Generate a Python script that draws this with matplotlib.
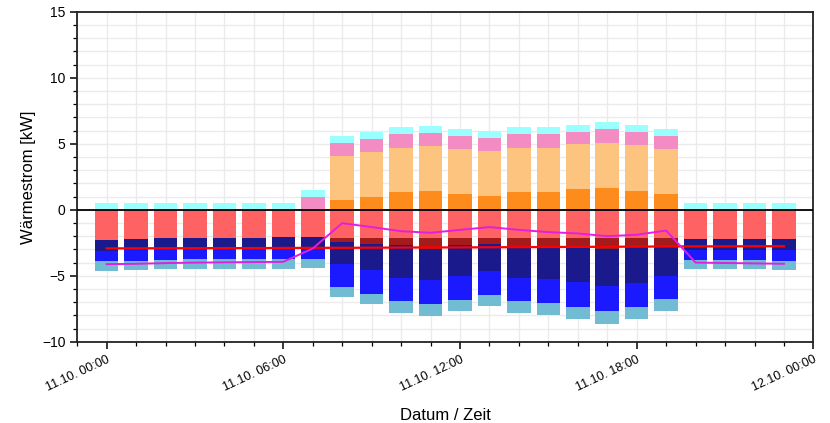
import datetime as dt
import numpy as np
import matplotlib
matplotlib.use("Agg")
import matplotlib.pyplot as plt
import matplotlib.dates as mdates
from matplotlib.ticker import MultipleLocator

plt.rcParams['font.family'] = ['Liberation Sans', 'DejaVu Sans']

# DATA (hourly values, 11.10.)

hours = [dt.datetime(2021, 10, 11, h) for h in range(24)]

# positive part (bottom -> top)
orange_dark = [0, 0, 0, 0, 0, 0, 0, 0, 0.71, 0.96, 1.34, 1.41, 1.20, 1.04, 1.33, 1.33,
               1.54, 1.69, 1.46, 1.19, 0, 0, 0, 0]
orange_light = [0, 0, 0, 0, 0, 0, 0, 0, 3.38, 3.42, 3.38, 3.40, 3.37, 3.40, 3.39, 3.39,
                3.41, 3.39, 3.44, 3.38, 0, 0, 0, 0]
pink = [0, 0, 0, 0, 0, 0, 0, 0.96, 1.01, 0.97, 1.01, 0.99, 1.02, 0.99, 1.01, 1.01,
        0.98, 1.01, 0.98, 1.01, 0, 0, 0, 0]
cyan = [0.50, 0.50, 0.50, 0.50, 0.50, 0.50, 0.50, 0.53, 0.53, 0.51, 0.53, 0.53, 0.52, 0.55,
        0.53, 0.53, 0.53, 0.53, 0.51, 0.51, 0.50, 0.50, 0.50, 0.48]

# negative part (top -> bottom)
red = [-2.27, -2.22, -2.15, -2.12, -2.12, -2.10, -2.08, -2.08, -2.10, -2.10, -2.10, -2.10,
       -2.10, -2.14, -2.14, -2.14, -2.14, -2.14, -2.14, -2.14, -2.20, -2.20, -2.20, -2.22]
red_dark = [0, 0, 0, 0, 0, 0, 0, 0, -0.37, -0.50, -0.60, -0.88, -0.60, -0.46, -0.59, -0.59,
            -0.61, -0.86, -0.61, -0.59, 0, 0, 0, 0]
navy = [-0.86, -0.86, -0.85, -0.83, -0.83, -0.83, -0.85, -0.87, -1.65, -1.97, -2.43, -2.35,
        -2.33, -2.07, -2.40, -2.50, -2.75, -2.81, -2.78, -2.32, -0.83, -0.83, -0.83, -0.86]
blue = [-0.78, -0.78, -0.81, -0.81, -0.81, -0.81, -0.79, -0.76, -1.74, -1.79, -1.81, -1.84,
        -1.79, -1.79, -1.81, -1.84, -1.87, -1.87, -1.84, -1.74, -0.78, -0.78, -0.78, -0.78]
lightblue = [-0.71, -0.69, -0.68, -0.71, -0.71, -0.73, -0.73, -0.73, -0.76, -0.81, -0.91, -0.89,
             -0.86, -0.84, -0.89, -0.88, -0.91, -0.96, -0.91, -0.89, -0.71, -0.71, -0.71, -0.71]

# lines
line_red = [-2.92, -2.92, -2.91, -2.91, -2.90, -2.90, -2.89, -2.88, -2.88, -2.87, -2.86, -2.85,
            -2.85, -2.84, -2.83, -2.82, -2.81, -2.80, -2.79, -2.78, -2.77, -2.77, -2.76, -2.76]
line_magenta = [-4.12, -4.09, -4.04, -4.00, -3.98, -3.96, -3.94, -2.93, -1.01, -1.31, -1.62, -1.74,
                -1.52, -1.31, -1.52, -1.69, -1.79, -2.00, -1.89, -1.57, -4.00, -4.03, -4.06, -4.09]

# PLOT

fig = plt.figure(figsize=(8.3, 4.23), dpi=100)
ax = fig.add_axes([0.093, 0.192, 0.887, 0.780])

width = 0.8 / 24

pos = [(orange_dark, '#fe8c1c'), (orange_light, '#fdc47f'), (pink, '#f38cc3'), (cyan, '#99ffff')]
bottom = np.zeros(24)
for vals, col in pos:
    ax.bar(hours, vals, width=width, bottom=bottom, color=col, zorder=2)
    bottom = bottom + np.array(vals)

neg = [(red, '#ff6262'), (red_dark, '#a31b1b'), (navy, '#1b1a8c'), (blue, '#1b1aff'),
       (lightblue, '#71bcd3')]
bottom = np.zeros(24)
for vals, col in neg:
    ax.bar(hours, vals, width=width, bottom=bottom, color=col, zorder=2)
    bottom = bottom + np.array(vals)

ax.plot(hours, line_red, color='red', lw=1.6, zorder=3)
ax.plot(hours, line_magenta, color='#e11ee1', lw=1.4, zorder=3)
ax.axhline(0, color='black', lw=1.3, zorder=4)

ax.set_xlim(dt.datetime(2021, 10, 10, 23), dt.datetime(2021, 10, 12, 0))
ax.set_ylim(-10, 15)
ax.yaxis.set_major_locator(MultipleLocator(5))
ax.yaxis.set_minor_locator(MultipleLocator(1))
ax.xaxis.set_major_locator(mdates.HourLocator(byhour=[0, 6, 12, 18]))
ax.xaxis.set_minor_locator(mdates.HourLocator())
ax.xaxis.set_major_formatter(mdates.DateFormatter('%d.%m. %H:%M'))

ax.grid(True, which='both', color='#ebebeb', lw=1.0, zorder=0)
ax.set_axisbelow(True)
for s in ax.spines.values():
    s.set_linewidth(1.3)
    s.set_color('#222222')
ax.tick_params(which='major', length=5, width=1.1, labelsize=10)
ax.tick_params(axis='x', which='major', labelsize=9)
ax.tick_params(which='minor', length=3, width=0.9)
plt.setp(ax.get_xticklabels(), rotation=25, ha='right', rotation_mode='anchor')

ax.set_xlabel('Datum / Zeit', fontsize=12, labelpad=10)
ax.set_ylabel('Wärmestrom [kW]', fontsize=12)

fig.savefig('out.png', dpi=100)
